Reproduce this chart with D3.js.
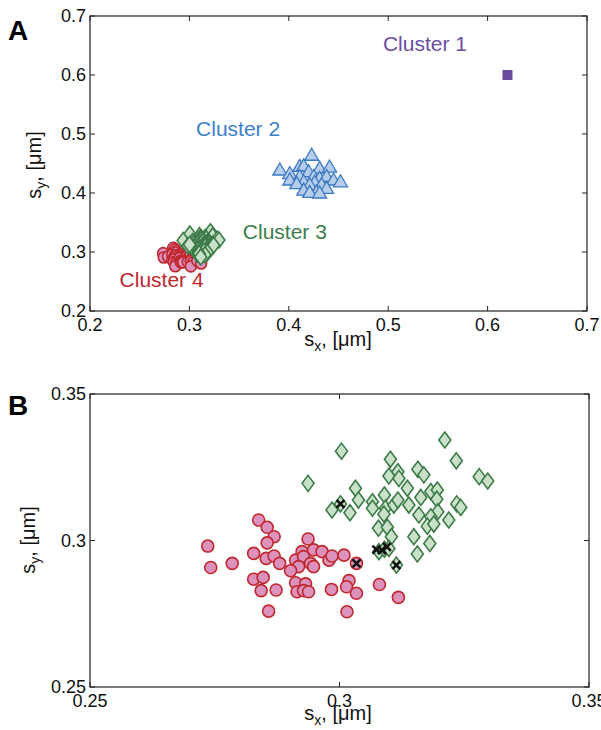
<!DOCTYPE html>
<html>
<head>
<meta charset="UTF-8">
<title>Clusters</title>
<script src="https://cdn.jsdelivr.net/npm/d3@7"></script>
<style>
  body { margin: 0; background: #fff; }
  text { font-family: "Liberation Sans", Arial, sans-serif; }
</style>
</head>
<body>
<div id="chart"></div>
<script>
// cluster 1 (single point)
var cluster1 = [[0.62, 0.60]];

// cluster 2 (triangles)
var cluster2 = [
  [0.423, 0.464], [0.391, 0.439], [0.401, 0.433], [0.411, 0.445], [0.415, 0.446],
  [0.420, 0.436], [0.431, 0.442], [0.441, 0.444], [0.411, 0.428], [0.425, 0.428],
  [0.431, 0.425], [0.438, 0.428], [0.401, 0.422], [0.415, 0.419], [0.426, 0.418],
  [0.445, 0.422], [0.452, 0.419], [0.408, 0.416], [0.421, 0.414], [0.433, 0.414],
  [0.415, 0.405], [0.428, 0.402], [0.438, 0.408], [0.421, 0.401], [0.431, 0.400]
];

// cluster 3 (diamonds)
var cluster3 = [
  [0.3211, 0.3343], [0.3004, 0.3305], [0.3102, 0.3277], [0.3234, 0.3272], [0.2937, 0.3195],
  [0.3099, 0.3220], [0.3117, 0.3235], [0.3119, 0.3212], [0.3157, 0.3243], [0.3169, 0.3224],
  [0.3280, 0.3218], [0.3297, 0.3203], [0.3032, 0.3178], [0.3038, 0.3138], [0.2985, 0.3104],
  [0.3021, 0.3095], [0.3066, 0.3132], [0.3066, 0.3110], [0.3090, 0.3155], [0.3092, 0.3110],
  [0.3109, 0.3121], [0.3117, 0.3138], [0.3136, 0.3178], [0.3139, 0.3121], [0.3163, 0.3147],
  [0.3183, 0.3167], [0.3196, 0.3172], [0.3195, 0.3141], [0.3197, 0.3098], [0.3183, 0.3081],
  [0.3159, 0.3087], [0.3176, 0.3049], [0.3189, 0.3056], [0.3219, 0.3070], [0.3235, 0.3125],
  [0.3243, 0.3113], [0.3089, 0.3090], [0.3078, 0.3042], [0.3096, 0.3045], [0.3104, 0.3013],
  [0.3149, 0.3013], [0.3181, 0.2990], [0.3156, 0.2954], [0.3079, 0.2962], [0.3090, 0.2970],
  [0.3099, 0.2973], [0.3114, 0.2916], [0.3002, 0.3125]
];

// cluster 4 (circles)
var cluster4 = [
  [0.2736, 0.2981], [0.2742, 0.2908], [0.2785, 0.2922], [0.2838, 0.3070], [0.2855, 0.3045],
  [0.2869, 0.3013], [0.2855, 0.2992], [0.2828, 0.2956], [0.2853, 0.2939], [0.2869, 0.2947],
  [0.2880, 0.2922], [0.2828, 0.2868], [0.2847, 0.2874], [0.2843, 0.2829], [0.2873, 0.2831],
  [0.2858, 0.2759], [0.2937, 0.3005], [0.2925, 0.2962], [0.2948, 0.2968], [0.2965, 0.2962],
  [0.2912, 0.2933], [0.2928, 0.2945], [0.2942, 0.2922], [0.2948, 0.2911], [0.2918, 0.2911],
  [0.2902, 0.2897], [0.2979, 0.2933], [0.2985, 0.2947], [0.3009, 0.2950], [0.3034, 0.2922],
  [0.2912, 0.2856], [0.2932, 0.2852], [0.2915, 0.2825], [0.2928, 0.2829], [0.2938, 0.2825],
  [0.2984, 0.2833], [0.3019, 0.2863], [0.3014, 0.2842], [0.3034, 0.2820], [0.3015, 0.2757],
  [0.3080, 0.2850], [0.3118, 0.2806]
];

// misassigned points (black crosses, panel B)
var crossed = [
  [0.3002, 0.3125], [0.3074, 0.2969], [0.3085, 0.2967], [0.3095, 0.2978], [0.3114, 0.2916],
  [0.3034, 0.2922]
];

var ticksA = [0.2, 0.3, 0.4, 0.5, 0.6, 0.7];
var ticksB = [0.25, 0.3, 0.35];

var labelsA = [
  {text: "Cluster 1", x: 0.537, y: 0.640, color: "#6a4ea0"},
  {text: "Cluster 2", x: 0.349, y: 0.497, color: "#3b7fcb"},
  {text: "Cluster 3", x: 0.396, y: 0.322, color: "#3a7d4a"},
  {text: "Cluster 4", x: 0.272, y: 0.240, color: "#c0272d"}
];

var W = 601, H = 730;
var svg = d3.select("#chart").append("svg").attr("width", W).attr("height", H);

var sty = {
  c1: {fill: "#6a4c9c", stroke: "#6a4c9c"},
  c2: {fill: "#b5cdea", stroke: "#3a78c3"},
  c3: {fill: "#c9e1c8", stroke: "#3c7a48"},
  c4: {fill: "#dc92bd", stroke: "#c0272d"}
};

function panel(box, xd, yd, xt, yt, fmt) {
  var x = d3.scaleLinear().domain(xd).range([box.l, box.r]);
  var y = d3.scaleLinear().domain(yd).range([box.b, box.t]);
  var g = svg.append("g");
  g.append("rect").attr("x", box.l).attr("y", box.t)
    .attr("width", box.r - box.l).attr("height", box.b - box.t)
    .attr("fill", "none").attr("stroke", "#222").attr("stroke-width", 1.2);
  // inward ticks on all four sides
  xt.forEach(function (v) {
    g.append("line").attr("x1", x(v)).attr("x2", x(v)).attr("y1", box.b).attr("y2", box.b - 5).attr("stroke", "#222");
    g.append("line").attr("x1", x(v)).attr("x2", x(v)).attr("y1", box.t).attr("y2", box.t + 5).attr("stroke", "#222");
    g.append("text").attr("x", x(v)).attr("y", box.b + 20).attr("text-anchor", "middle")
      .attr("font-size", 18).attr("fill", "#111").text(fmt(v));
  });
  yt.forEach(function (v) {
    g.append("line").attr("x1", box.l).attr("x2", box.l + 5).attr("y1", y(v)).attr("y2", y(v)).attr("stroke", "#222");
    g.append("line").attr("x1", box.r).attr("x2", box.r - 5).attr("y1", y(v)).attr("y2", y(v)).attr("stroke", "#222");
    g.append("text").attr("x", box.l - 4).attr("y", y(v) + 6).attr("text-anchor", "end")
      .attr("font-size", 18).attr("fill", "#111").text(fmt(v));
  });
  return {x: x, y: y, g: g};
}

function fmt(v) { return String(+v.toFixed(2)); }

function drawClusters(p, s) {
  var g = p.g;
  g.selectAll(".c4").data(cluster4).enter().append("circle")
    .attr("cx", function (d) { return p.x(d[0]); })
    .attr("cy", function (d) { return p.y(d[1]); })
    .attr("r", s.r).attr("fill", sty.c4.fill).attr("stroke", sty.c4.stroke).attr("stroke-width", 1.6);
  g.selectAll(".c3").data(cluster3).enter().append("path")
    .attr("d", function (d) {
      var cx = p.x(d[0]), cy = p.y(d[1]);
      return "M" + cx + "," + (cy - s.dh) + "L" + (cx + s.dw) + "," + cy + "L" + cx + "," + (cy + s.dh) + "L" + (cx - s.dw) + "," + cy + "Z";
    })
    .attr("fill", sty.c3.fill).attr("stroke", sty.c3.stroke).attr("stroke-width", 1.6);
}

function cross(p, d, s) {
  var cx = p.x(d[0]), cy = p.y(d[1]);
  p.g.append("path").attr("d", "M" + (cx - s) + "," + (cy - s) + "L" + (cx + s) + "," + (cy + s) +
    "M" + (cx - s) + "," + (cy + s) + "L" + (cx + s) + "," + (cy - s))
    .attr("stroke", "#111").attr("stroke-width", 2.6);
}

// Panel A
var pA = panel({l: 90, r: 587, t: 16, b: 311}, [0.2, 0.7], [0.2, 0.7], ticksA, ticksA, fmt);
pA.g.selectAll(".c1").data(cluster1).enter().append("rect")
  .attr("x", function (d) { return pA.x(d[0]) - 5; })
  .attr("y", function (d) { return pA.y(d[1]) - 5; })
  .attr("width", 10).attr("height", 10).attr("fill", sty.c1.fill);
pA.g.selectAll(".c2").data(cluster2).enter().append("path")
  .attr("d", function (d) {
    var cx = pA.x(d[0]), cy = pA.y(d[1]);
    return "M" + cx + "," + (cy - 7) + "L" + (cx + 7) + "," + (cy + 5) + "L" + (cx - 7) + "," + (cy + 5) + "Z";
  })
  .attr("fill", sty.c2.fill).attr("stroke", sty.c2.stroke).attr("stroke-width", 1.3);
drawClusters(pA, {r: 5.5, dw: 6, dh: 8});
labelsA.forEach(function (l) {
  pA.g.append("text").attr("x", pA.x(l.x)).attr("y", pA.y(l.y)).attr("text-anchor", "middle")
    .attr("font-size", 21).attr("fill", l.color).text(l.text);
});

// Panel B
var pB = panel({l: 90, r: 589, t: 394, b: 687}, [0.25, 0.35], [0.25, 0.35], ticksB, ticksB, fmt);
drawClusters(pB, {r: 6, dw: 6, dh: 8});
crossed.forEach(function (d) { cross(pB, d, 4); });

// axis titles
function yTitle(cx, cy) {
  var t = svg.append("text").attr("transform", "translate(" + cx + "," + cy + ") rotate(-90)")
    .attr("text-anchor", "middle").attr("font-size", 20).attr("fill", "#111");
  t.append("tspan").text("s");
  t.append("tspan").attr("font-size", 14).attr("dy", 5).text("y");
  t.append("tspan").attr("dy", -5).text(", [\u03bcm]");
}
function xTitle(cx, cy) {
  var t = svg.append("text").attr("x", cx).attr("y", cy)
    .attr("text-anchor", "middle").attr("font-size", 20).attr("fill", "#111");
  t.append("tspan").text("s");
  t.append("tspan").attr("font-size", 14).attr("dy", 5).text("x");
  t.append("tspan").attr("dy", -5).text(", [\u03bcm]");
}
yTitle(41, 165);
xTitle(338, 346);
yTitle(35, 540);
xTitle(338, 720);

svg.append("text").attr("x", 8).attr("y", 40).attr("font-size", 28).attr("font-weight", "bold").text("A");
svg.append("text").attr("x", 8).attr("y", 415).attr("font-size", 28).attr("font-weight", "bold").text("B");
</script>
</body>
</html>
